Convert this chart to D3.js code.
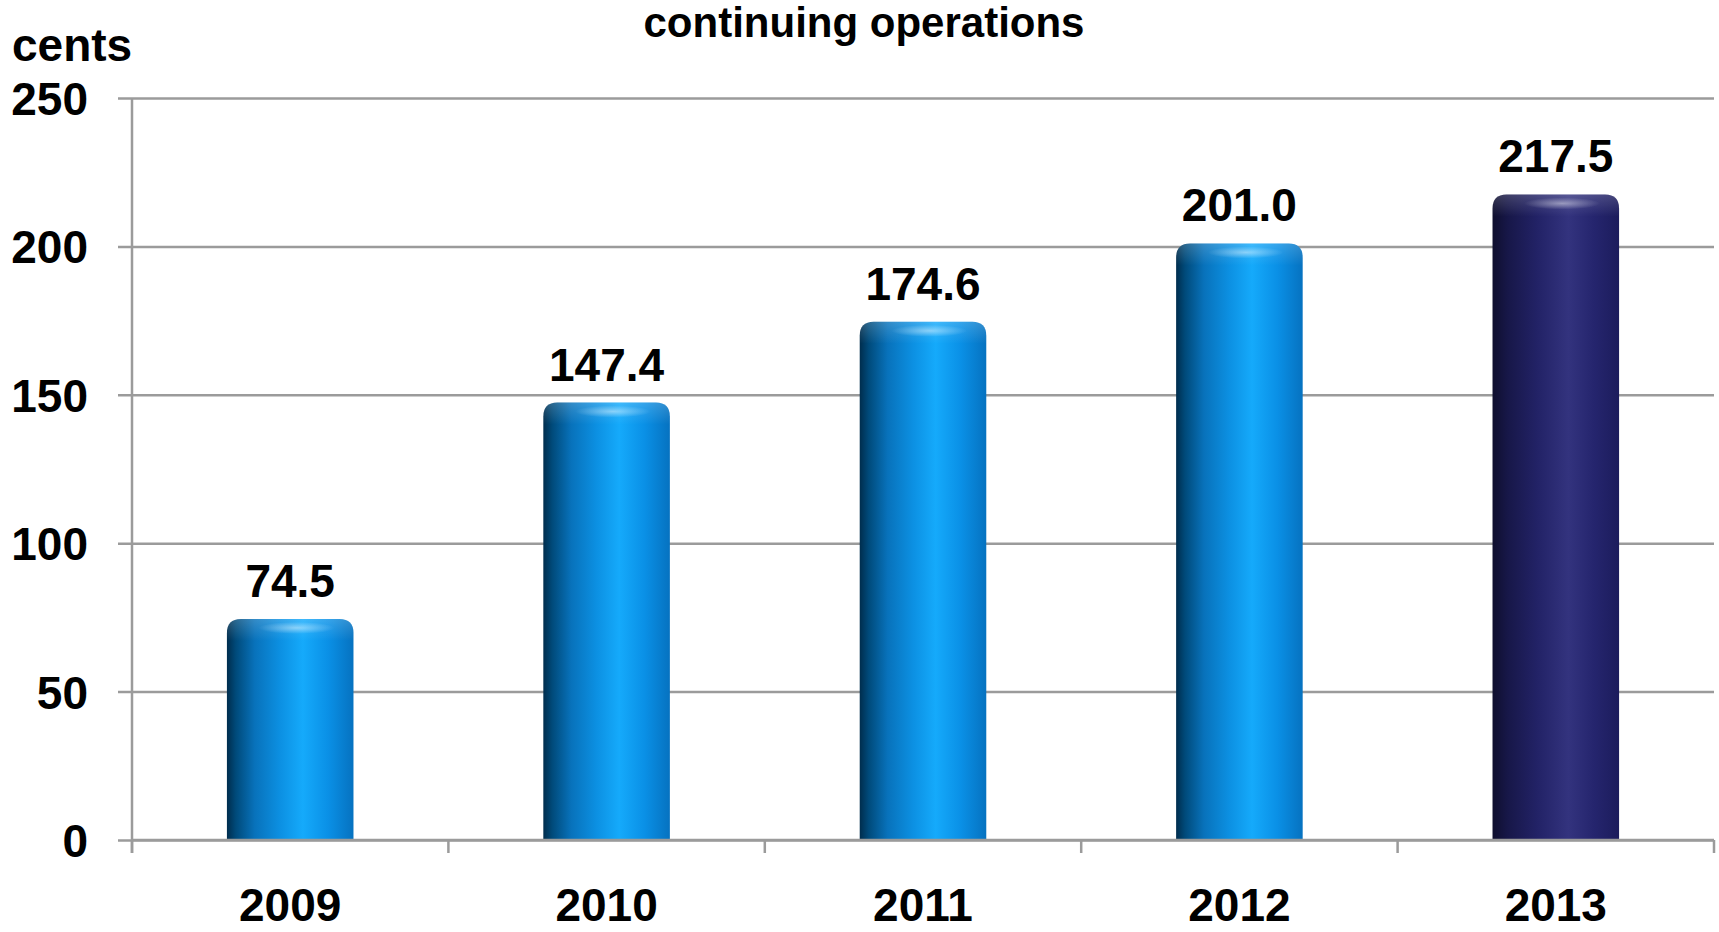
<!DOCTYPE html>
<html>
<head>
<meta charset="utf-8">
<script src="https://cdn.jsdelivr.net/npm/d3@7"></script>
<style>
  html, body { margin: 0; padding: 0; background: #ffffff; }
  svg { display: block; }
  text { font-family: "Liberation Sans", Arial, sans-serif; font-weight: bold; fill: #000; }
</style>
</head>
<body>
<svg id="chart" width="1719" height="932"></svg>
<script>
// Earnings per share, continuing operations (cents)
const years = ["2009", "2010", "2011", "2012", "2013"];
const cents = [74.5, 147.4, 174.6, 201.0, 217.5];
const yTicks = [0, 50, 100, 150, 200, 250];
const currentYear = "2013";

const W = 1719, H = 932;
const margin = { left: 132, right: 5, top: 98, bottom: 92 };
const svg = d3.select("#chart");

const x = d3.scaleBand()
  .domain(years)
  .range([margin.left, W - margin.right])
  .paddingInner(0.6)
  .paddingOuter(0.3);

const xEdge = d3.scaleLinear()
  .domain([0, years.length])
  .range([margin.left, W - margin.right]);

const y = d3.scaleLinear()
  .domain([0, 250])
  .range([H - margin.bottom, margin.top]);

const defs = svg.append("defs");

function hGrad(id, stops) {
  const g = defs.append("linearGradient").attr("id", id)
    .attr("x1", "0%").attr("x2", "100%").attr("y1", "0%").attr("y2", "0%");
  stops.forEach(([o, c]) => g.append("stop").attr("offset", o).attr("stop-color", c));
}
hGrad("blueBar", [
  ["0%", "#002d4d"], ["7%", "#004a7a"], ["22%", "#0872bb"], ["42%", "#0c90e2"],
  ["60%", "#15aafb"], ["80%", "#0a90e6"], ["100%", "#0672c0"]
]);
hGrad("navyBar", [
  ["0%", "#0f0f2e"], ["12%", "#171748"], ["35%", "#222266"], ["60%", "#33337e"],
  ["80%", "#25256e"], ["100%", "#1c1c5c"]
]);

const shine = defs.append("radialGradient").attr("id", "capShine")
  .attr("cx", "50%").attr("cy", "50%").attr("r", "50%");
shine.append("stop").attr("offset", "0%").attr("stop-color", "#ffffff").attr("stop-opacity", 0.45);
shine.append("stop").attr("offset", "100%").attr("stop-color", "#ffffff").attr("stop-opacity", 0);

const capFade = defs.append("linearGradient").attr("id", "capFade")
  .attr("x1", "0%").attr("x2", "0%").attr("y1", "0%").attr("y2", "100%");
capFade.append("stop").attr("offset", "0%").attr("stop-color", "#ffffff").attr("stop-opacity", 0.18);
capFade.append("stop").attr("offset", "100%").attr("stop-color", "#ffffff").attr("stop-opacity", 0);

// Horizontal gridlines with left tick stubs
const grid = svg.append("g")
  .attr("transform", `translate(${margin.left},0)`)
  .call(d3.axisLeft(y).tickValues(yTicks).tickSize(14).tickFormat(""));
grid.select(".domain").remove();
grid.selectAll(".tick line")
  .attr("x2", W - margin.right - margin.left)
  .attr("x1", -14)
  .attr("stroke", "#9b9b9b").attr("stroke-width", 2.5);

// Y tick labels
svg.append("g").selectAll("text")
  .data(yTicks).join("text")
  .attr("x", 88)
  .attr("y", d => y(d) + 17)
  .attr("text-anchor", "end")
  .attr("font-size", 46)
  .text(d => d);

// Vertical axis line
svg.append("line")
  .attr("x1", margin.left).attr("x2", margin.left)
  .attr("y1", y(250)).attr("y2", y(0) + 13)
  .attr("stroke", "#9b9b9b").attr("stroke-width", 2.5);

// Category boundary ticks under the baseline
svg.append("g").selectAll("line")
  .data(d3.range(years.length + 1)).join("line")
  .attr("x1", i => xEdge(i)).attr("x2", i => xEdge(i))
  .attr("y1", y(0)).attr("y2", y(0) + 13)
  .attr("stroke", "#9b9b9b").attr("stroke-width", 2.5);

// Bars with rounded top corners
function barPath(x0, w, top, bottom, r) {
  return `M${x0},${bottom} L${x0},${top + r} Q${x0},${top} ${x0 + r},${top} ` +
         `L${x0 + w - r},${top} Q${x0 + w},${top} ${x0 + w},${top + r} L${x0 + w},${bottom} Z`;
}
const data = years.map((yr, i) => ({ year: yr, value: cents[i] }));
const bars = svg.append("g").selectAll("g").data(data).join("g");
const r = 14;
bars.append("path")
  .attr("d", d => barPath(x(d.year), x.bandwidth(), y(d.value), y(0), r))
  .attr("fill", d => d.year === currentYear ? "url(#navyBar)" : "url(#blueBar)");
bars.append("path")
  .attr("d", d => barPath(x(d.year), x.bandwidth(), y(d.value), y(d.value) + 22, r))
  .attr("fill", "url(#capFade)");
bars.append("ellipse")
  .attr("cx", d => x(d.year) + x.bandwidth() * 0.55)
  .attr("cy", d => y(d.value) + 9)
  .attr("rx", x.bandwidth() * 0.3)
  .attr("ry", 6)
  .attr("fill", "url(#capShine)");

// Baseline drawn over bar bottoms
svg.append("line")
  .attr("x1", margin.left).attr("x2", W - margin.right)
  .attr("y1", y(0)).attr("y2", y(0))
  .attr("stroke", "#9b9b9b").attr("stroke-width", 2.5);

// Value labels
bars.append("text")
  .attr("x", d => x(d.year) + x.bandwidth() / 2)
  .attr("y", d => y(d.value) - 22)
  .attr("text-anchor", "middle")
  .attr("font-size", 46)
  .text(d => d.value.toFixed(1));

// Category labels
svg.append("g").selectAll("text")
  .data(years).join("text")
  .attr("x", d => x(d) + x.bandwidth() / 2)
  .attr("y", 921)
  .attr("text-anchor", "middle")
  .attr("font-size", 46)
  .text(d => d);

// Unit label and title
svg.append("text")
  .attr("x", 12).attr("y", 61)
  .attr("font-size", 46)
  .text("cents");

svg.append("text")
  .attr("x", 864).attr("y", 37)
  .attr("text-anchor", "middle")
  .attr("font-size", 42)
  .text("continuing operations");
</script>
</body>
</html>
